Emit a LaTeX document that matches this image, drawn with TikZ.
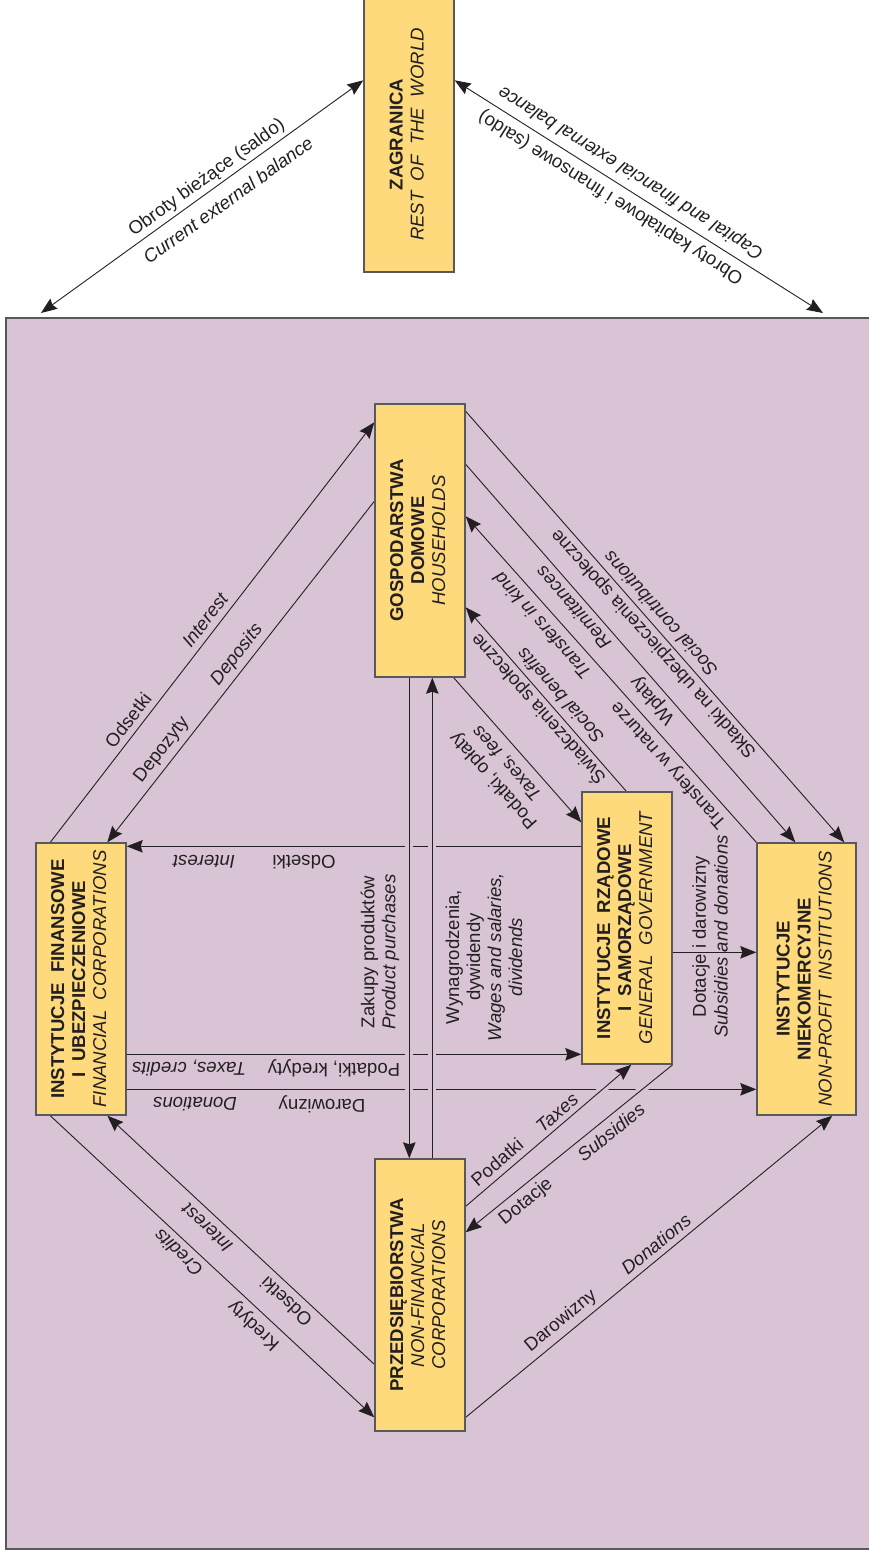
\documentclass[tikz,border=0pt]{standalone}
\usepackage{fontspec}
\setmainfont{Liberation Sans}
\usepackage{graphicx}
\usetikzlibrary{arrows.meta}
\definecolor{bgp}{RGB}{217,196,214}
\definecolor{boxy}{RGB}{255,218,124}
\definecolor{boxb}{RGB}{88,89,91}
\definecolor{ink}{RGB}{35,31,32}
\pgfdeclarelayer{back}
\pgfdeclarelayer{lines}
\pgfsetlayers{back,lines,main}
\newcommand{\ws}{\hspace{0.556em}}
\newcommand{\boxtext}[1]{\rotatebox{90}{\begin{tabular}{@{}c@{}}#1\end{tabular}}}
\begin{document}
\begin{tikzpicture}[x=1pt,y=-1pt,
  font=\fontsize{18.6}{21}\selectfont, text=ink,
  sector/.style={draw=boxb, line width=1.4pt, fill=boxy, inner sep=0pt, minimum width=90pt, anchor=center},
  conn/.style={draw=ink, line width=0.9pt},
  tip/.tip={Stealth[length=16pt,width=12.5pt,inset=2pt]},
  arr/.style={conn, -tip},
  darr/.style={conn, tip-tip},
  halo/.style={preaction={draw=bgp, line width=8pt, -}},
  lab/.style={inner sep=0pt, anchor=center},
  itl/.style={lab, font=\fontsize{18.6}{21}\selectfont\itshape},
]
\useasboundingbox (0,0) rectangle (868,1556);

% economy background
\begin{pgfonlayer}{back}
\fill[bgp, draw=boxb, line width=1.2pt] (6,318) rectangle (880,1549);
\end{pgfonlayer}

% sectors
\node[sector, minimum height=275pt] (zag) at (409,134.5)
  {\boxtext{\bfseries ZAGRANICA\\ \itshape REST\ws OF\ws THE\ws WORLD}};
\node[sector, minimum height=273pt] (hh) at (420,540.5)
  {\boxtext{\bfseries GOSPODARSTWA\\ \bfseries DOMOWE\\ \itshape HOUSEHOLDS}};
\node[sector, minimum height=272pt] (fin) at (81,979)
  {\boxtext{\bfseries INSTYTUCJE\ws FINANSOWE\\ \bfseries I\ws UBEZPIECZENIOWE\\ \itshape FINANCIAL\ws CORPORATIONS}};
\node[sector, minimum height=272pt] (gov) at (627,928)
  {\boxtext{\bfseries INSTYTUCJE\ws RZĄDOWE\\ \bfseries I\ws SAMORZĄDOWE\\ \itshape GENERAL\ws GOVERNMENT}};
\node[sector, minimum height=272pt, minimum width=99pt] (npi) at (806.5,979)
  {\boxtext{\bfseries INSTYTUCJE\\ \bfseries NIEKOMERCYJNE\\ \itshape NON-PROFIT\ws INSTITUTIONS}};
\node[sector, minimum height=272pt] (ent) at (420,1295)
  {\boxtext{\bfseries PRZEDSIĘBIORSTWA\\ \itshape NON-FINANCIAL\\ \itshape CORPORATIONS}};

\coordinate (ecoL) at (41,313);
\coordinate (ecoR) at (823,313);

% connectors
\begin{pgfonlayer}{lines}
\draw[darr] (ecoL) -- ([yshift=-84pt]zag.north west);
\draw[darr] ([yshift=-84pt]zag.north east) -- (ecoR);

\draw[arr] ([xshift=15pt]fin.north west) -- ([yshift=-19pt]hh.north west);
\draw[arr] ([yshift=-98pt]hh.north west) -- ([xshift=72pt]fin.north west);
\draw[arr] ([yshift=-206pt]ent.north west) -- ([xshift=72pt]fin.south west);
\draw[arr] ([xshift=15pt]fin.south west) -- ([yshift=-259pt]ent.north west);

\coordinate (g1) at ([yshift=-55pt]gov.north west);
\draw[arr] (g1) -- (g1 -| fin.east);
\coordinate (f2) at ([yshift=-212pt]fin.north east);
\draw[arr] (f2) -- (f2 -| gov.west);
\coordinate (f3) at ([yshift=-247pt]fin.north east);
\draw[arr] (f3) -- (f3 -| npi.west);

\draw[arr, halo] ([xshift=35pt]hh.south west) -- ([xshift=35pt]ent.north west);
\draw[arr, halo] ([xshift=58pt]ent.north west) -- ([xshift=58pt]hh.south west);

\draw[arr] ([xshift=-12pt]hh.south east) -- ([yshift=-31pt]gov.north west);
\draw[arr] ([xshift=45pt]gov.north west) -- ([yshift=-204pt]hh.north east);
\draw[arr] (npi.north west) -- ([yshift=-113pt]hh.north east);
\draw[arr] ([yshift=-61pt]hh.north east) -- ([xshift=39pt]npi.north west);
\draw[arr] ([yshift=-8pt]hh.north east) -- ([xshift=88pt]npi.north west);

\coordinate (g2) at ([yshift=-161pt]gov.north east);
\draw[arr] (g2) -- (g2 -| npi.west);

\draw[arr, halo] ([yshift=-48pt]ent.north east) -- ([xshift=50pt]gov.south west);
\draw[arr, halo] (gov.south east) -- ([yshift=-74pt]ent.north east);
\draw[arr] ([yshift=-259pt]ent.north east) -- ([xshift=76pt]npi.south west);
\end{pgfonlayer}

% labels
\node[lab, rotate=35.7] (l1) at (207,178) {Obroty bieżące (saldo)};
\node[itl, rotate=35.7] (l2) at (228,200) {Current external balance};
\node[lab, rotate=147.8] (l3) at (611,197) {Obroty kapitałowe i finansowe (saldo)};
\node[itl, rotate=147.8] (l4) at (631,172) {Capital and financial external balance};

\node[lab, rotate=52.3] (l5) at (128,720) {Odsetki};
\node[itl, rotate=52.3] (l6) at (205,620) {Interest};
\node[lab, rotate=52.0] (l7) at (162,750) {Depozyty};
\node[itl, rotate=52.0] (l8) at (237,655) {Deposits};

\node[itl, rotate=136.9] (l9) at (207,1228) {Interest};
\node[lab, rotate=136.9] (l10) at (286,1302) {Odsetki};
\node[itl, rotate=136.9] (l11) at (178,1253) {Credits};
\node[lab, rotate=136.9] (l12) at (254,1325) {Kredyty};

\node[lab, rotate=90, align=center] (l13) at (380,952) {Zakupy produktów\\\textit{Product purchases}};
\node[lab, rotate=90, align=center] (l14) at (484,957) {Wynagrodzenia,\\dywidendy\\\textit{Wages and salaries,}\\\textit{dividends}};

\node[lab, rotate=180] (l15) at (304,862) {Odsetki};
\node[itl, rotate=180] (l16) at (204,862) {Interest};
\node[lab, rotate=180] (l17) at (334,1068) {Podatki, kredyty};
\node[itl, rotate=180] (l18) at (189,1068) {Taxes, credits};
\node[lab, rotate=180] (l19) at (322,1104) {Darowizny};
\node[itl, rotate=180] (l20) at (195,1104) {Donations};

\node[lab, rotate=131.7] (l21) at (494,780) {Podatki, opłaty};
\node[itl, rotate=131.7] (l22) at (507,763) {Taxes, fees};
\node[lab, rotate=131.5] (l23) at (538,709) {Świadczenia społeczne};
\node[itl, rotate=131.5] (l24) at (560,696) {Social benefits};
\node[lab, rotate=131.8] (l25) at (669,765) {Transfery w naturze};
\node[itl, rotate=131.8] (l26) at (542,626) {Transfers in kind};
\node[lab, rotate=131.4] (l27) at (653,700) {Wpłaty};
\node[itl, rotate=131.4] (l28) at (573,608) {Remittances};
\node[lab, rotate=131.7] (l29) at (654,643) {Składki na ubezpieczenia społeczne};
\node[itl, rotate=131.7] (l30) at (660,614) {Social contributions};

\node[lab, rotate=90] (l31) at (701,936.5) {Dotacje i darowizny};
\node[itl, rotate=90] (l32) at (721,936.5) {Subsidies and donations};

\node[lab, rotate=40.6] (l33) at (497,1162) {Podatki};
\node[itl, rotate=40.6] (l34) at (557,1113) {Taxes};
\node[lab, rotate=39.2] (l35) at (526,1202) {Dotacje};
\node[itl, rotate=39.2] (l36) at (611,1132) {Subsidies};
\node[lab, rotate=39.5] (l37) at (561,1321) {Darowizny};
\node[itl, rotate=39.5] (l38) at (656,1244) {Donations};
\end{tikzpicture}
\end{document}
